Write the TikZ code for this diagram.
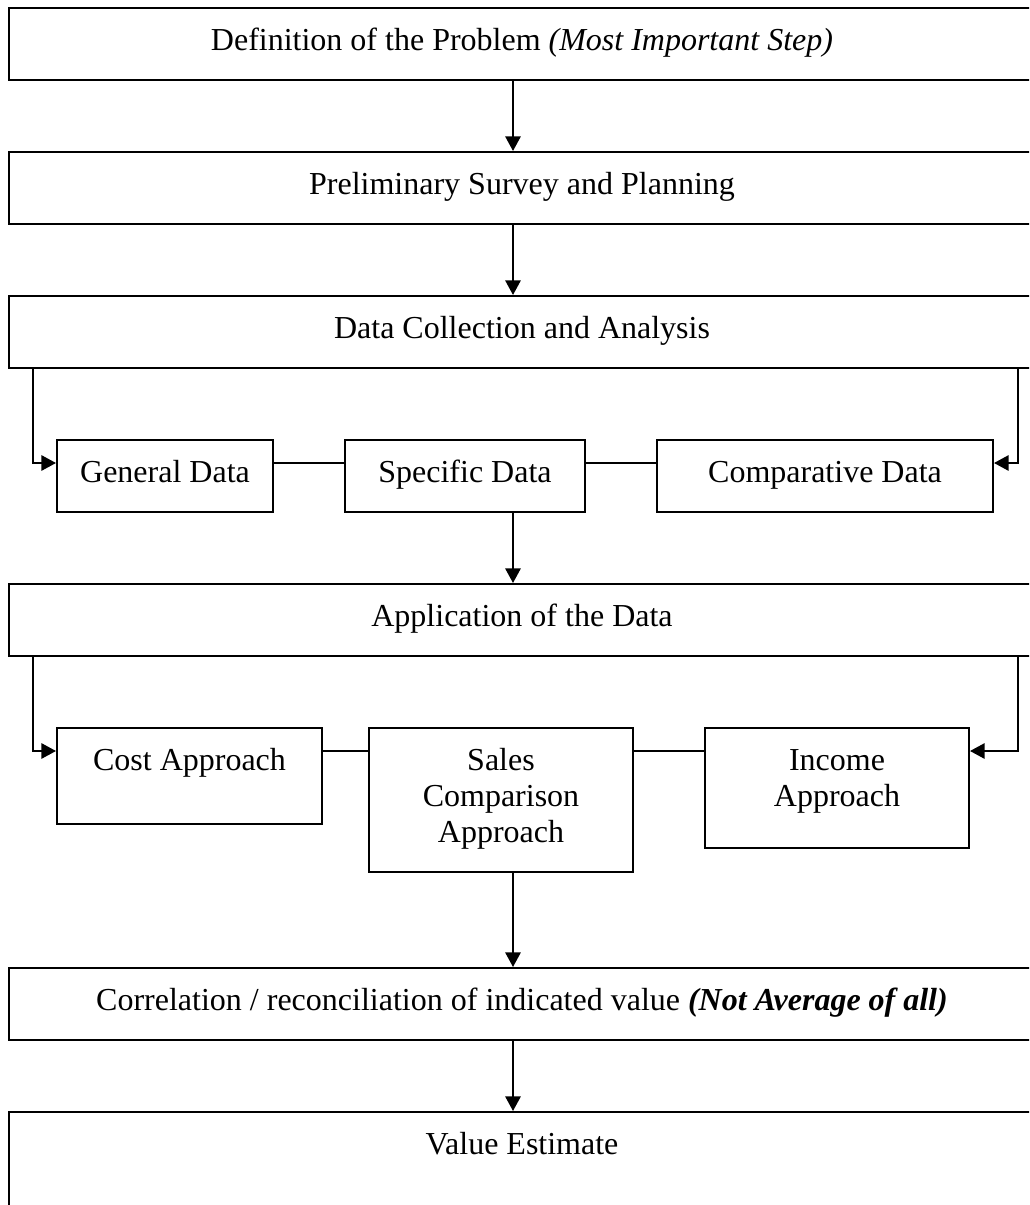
\documentclass[tikz,border=0pt]{standalone}
\usepackage{fontspec}
\setmainfont{Liberation Serif}
\usetikzlibrary{arrows.meta,calc}

\tikzset{
  stagebox/.style={draw, line width=1.5pt, inner sep=0pt, anchor=north, minimum width=769.5pt,
    text height=32pt, text depth=22pt, font=\fontsize{24}{27}\selectfont},
  partbox/.style={draw, line width=1.5pt, inner sep=0pt, anchor=north,
    text height=32pt, text depth=22pt, font=\fontsize{24}{27}\selectfont},
  flow/.style={line width=1.5pt, -{Triangle[length=11pt,width=11.5pt]}},
  link/.style={line width=1.5pt},
}

\begin{document}
\begin{tikzpicture}[x=0.75pt,y=0.75pt,yscale=-1,xscale=1]
\useasboundingbox (0,0) rectangle (1029,1205);
\clip (0,0) rectangle (1029,1205);

%rails for the side arrows and the main arrows
\coordinate (lrail) at (33,0);
\coordinate (rrail) at (1017.5,0);
\coordinate (mid) at (513,0);

%Stage boxes
\node[stagebox] (defn) at (522,7) {Definition of the Problem \textit{(Most Important Step)}};
\node[stagebox] (plan) at (522,151) {Preliminary Survey and Planning};
\node[stagebox] (dca) at (522,295) {Data Collection and Analysis};
\node[stagebox] (app) at (522,583) {Application of the Data};
\node[stagebox] (corr) at (522,967) {Correlation / reconciliation of indicated value \textbf{\textit{(Not Average of all)}}};
\node[stagebox, text depth=62pt] (value) at (522,1111) {Value Estimate};

%Data boxes
\node[partbox, minimum width=162pt] (gen) at (165,439) {General Data};
\node[partbox, minimum width=180pt] (spec) at (465,439) {Specific Data};
\node[partbox, minimum width=252pt] (comp) at (825,439) {Comparative Data};

%Approach boxes
\node[partbox, minimum width=198.75pt, text depth=40pt] (cost) at (189.5,727) {Cost Approach};
\node[partbox, minimum width=198pt, text depth=76pt] (sales) at (501,727) {\begin{tabular}[t]{@{}c@{}}Sales\\Comparison\\Approach\end{tabular}};
\node[partbox, minimum width=198pt, text depth=58pt] (income) at (837,727) {\begin{tabular}[t]{@{}c@{}}Income\\Approach\end{tabular}};

%Main arrows
\draw[flow] (defn.south -| mid) -- (plan.north -| mid);
\draw[flow] (plan.south -| mid) -- (dca.north -| mid);
\draw[flow] (spec.south -| mid) -- (app.north -| mid);
\draw[flow] (sales.south -| mid) -- (corr.north -| mid);
\draw[flow] (corr.south -| mid) -- (value.north -| mid);

%Data row
\draw[flow] (dca.south -| lrail) |- ($(gen.north west)+(0,24)$);
\draw[flow] (dca.south -| rrail) |- ($(comp.north east)+(0,24)$);
\draw[link] ($(gen.north east)+(0,24)$) -- ($(spec.north west)+(0,24)$);
\draw[link] ($(spec.north east)+(0,24)$) -- ($(comp.north west)+(0,24)$);

%Approach row
\draw[flow] (app.south -| lrail) |- ($(cost.north west)+(0,24)$);
\draw[flow] (app.south -| rrail) |- ($(income.north east)+(0,24)$);
\draw[link] ($(cost.north east)+(0,24)$) -- ($(sales.north west)+(0,24)$);
\draw[link] ($(sales.north east)+(0,24)$) -- ($(income.north west)+(0,24)$);
\end{tikzpicture}
\end{document}
